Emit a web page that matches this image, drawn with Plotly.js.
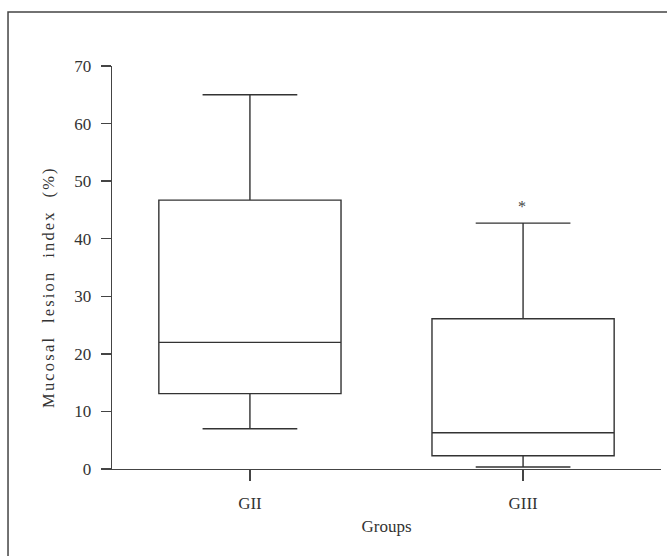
<!DOCTYPE html>
<html>
<head>
<meta charset="utf-8">
<script src="https://cdn.plot.ly/plotly-3.0.1.min.js"></script>
<style>
html,body{margin:0;padding:0;background:#fff;}
#chart{width:667px;height:556px;}
.annotation-text{letter-spacing:2.2px;}
</style>
</head>
<body>
<div id="chart"></div>
<script>
const groups = ["GII", "GIII"];
const lowerWhisker = [7.0, 0.35];
const q1Values = [13.1, 2.3];
const medianValues = [22.0, 6.3];
const q3Values = [46.7, 26.1];
const upperWhisker = [65.0, 42.7];
const significanceMark = {group: "GIII", label: "*", y: 45.6};
const yTicks = [0, 10, 20, 30, 40, 50, 60, 70];
const yTitle = "Mucosal  lesion  index  (%)";
const xTitle = "Groups";

const fontFam = "Liberation Serif, DejaVu Serif, serif";
const txt = "#333333";

const trace = {
  type: "box",
  x: groups,
  q1: q1Values,
  median: medianValues,
  q3: q3Values,
  lowerfence: lowerWhisker,
  upperfence: upperWhisker,
  width: 0.667,
  whiskerwidth: 0.52,
  fillcolor: "rgba(255,255,255,0)",
  line: {color: "#333333", width: 1.4},
  boxpoints: false,
  hoverinfo: "skip",
  showlegend: false
};

const layout = {
  width: 667,
  height: 556,
  margin: {l: 112, r: 6, t: 66, b: 87},
  paper_bgcolor: "#ffffff",
  plot_bgcolor: "#ffffff",
  font: {family: fontFam, color: txt, size: 16},
  xaxis: {
    type: "category",
    range: [-0.505, 1.505],
    showgrid: false,
    zeroline: false,
    showline: true,
    linecolor: "#444444",
    linewidth: 1.4,
    ticks: "outside",
    ticklen: 11,
    tickwidth: 1.4,
    tickcolor: "#444444",
    ticklabelstandoff: 7,
    tickfont: {family: fontFam, size: 17, color: txt},
    title: {text: xTitle, font: {family: fontFam, size: 17, color: txt}, standoff: 8}
  },
  yaxis: {
    range: [0, 70],
    tickvals: yTicks,
    ticktext: yTicks.map(String),
    showgrid: false,
    zeroline: false,
    showline: true,
    linecolor: "#444444",
    linewidth: 1.4,
    ticks: "outside",
    ticklen: 10,
    tickwidth: 1.4,
    tickcolor: "#444444",
    ticklabelstandoff: 6,
    tickfont: {family: fontFam, size: 17, color: txt}
  },
  annotations: [{
    x: significanceMark.group,
    y: significanceMark.y,
    xref: "x", yref: "y",
    text: significanceMark.label,
    showarrow: false,
    font: {family: fontFam, size: 16, color: "#444444"}
  }, {
    x: -0.1166, y: 0.4516,
    xref: "paper", yref: "paper",
    xanchor: "center", yanchor: "middle",
    text: yTitle,
    textangle: -90,
    showarrow: false,
    font: {family: fontFam, size: 16.5, color: txt}
  }],
  shapes: [{
    type: "rect",
    xref: "paper", yref: "paper",
    x0: -0.1894, x1: 2, y0: -1, y1: 1.134,
    line: {color: "#444444", width: 1.5},
    fillcolor: "rgba(0,0,0,0)",
    layer: "below"
  }]
};

Plotly.newPlot("chart", [trace], layout, {displayModeBar: false, staticPlot: true});
</script>
</body>
</html>
